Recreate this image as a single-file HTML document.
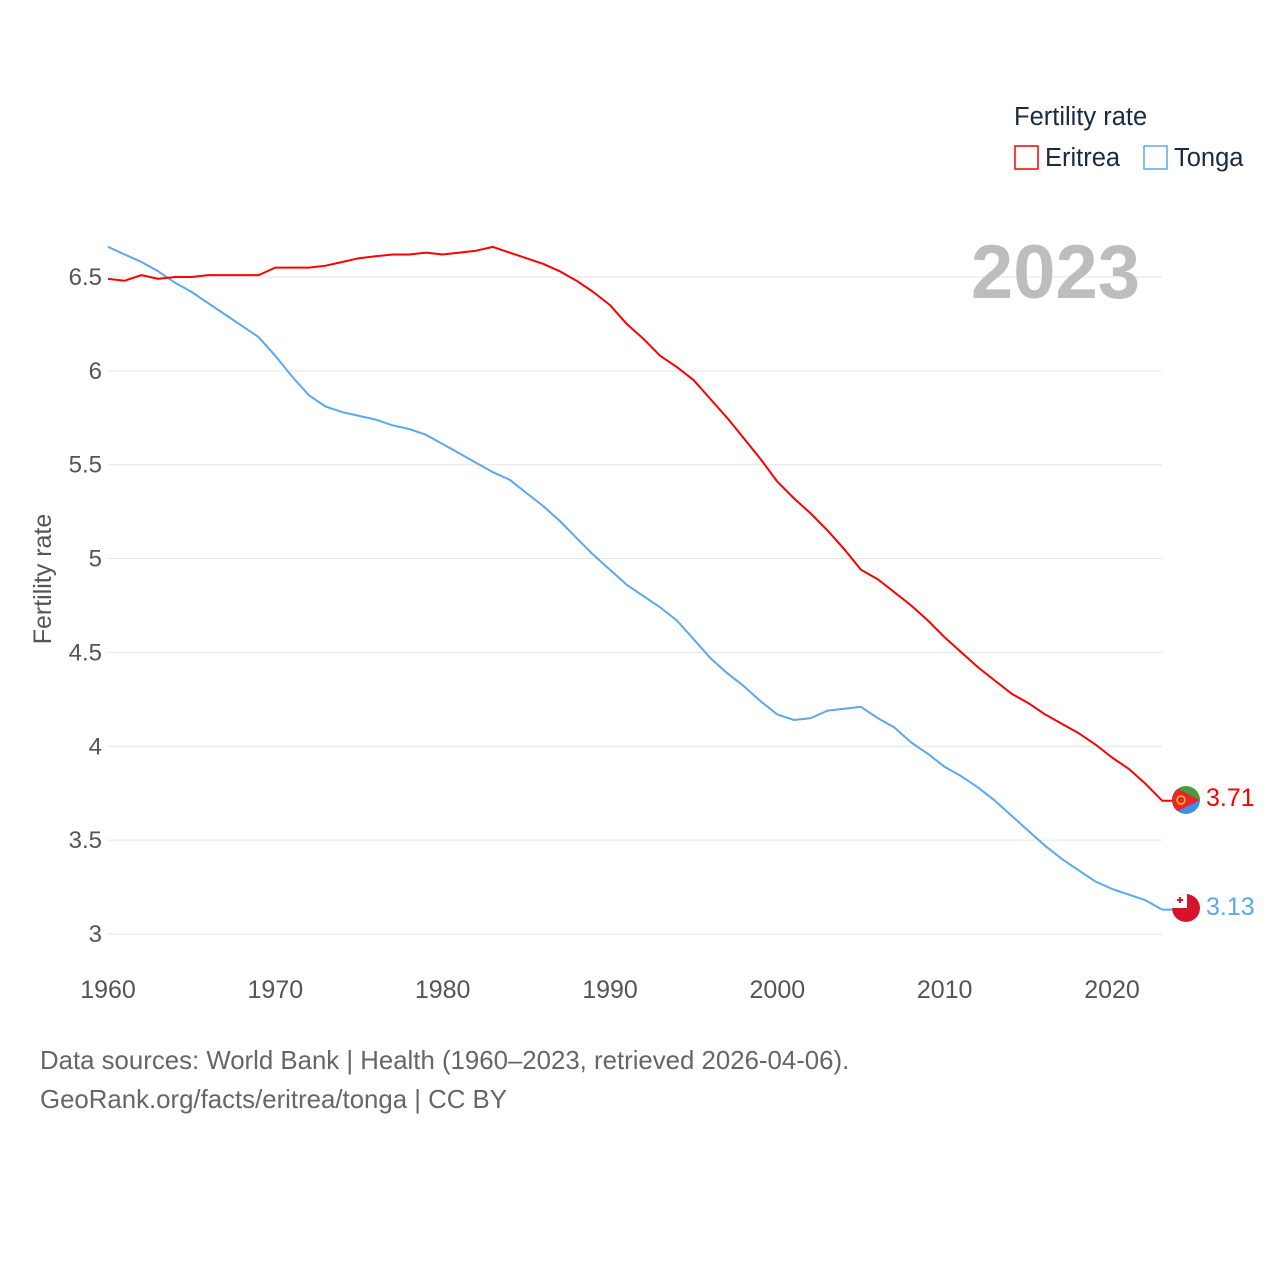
<!DOCTYPE html>
<html><head><meta charset="utf-8"><style>
body{margin:0;background:#fff;}
svg{display:block;font-family:"Liberation Sans",sans-serif;}
</style></head><body>
<svg id="chart" width="1280" height="1280" viewBox="0 0 1280 1280">
<rect width="1280" height="1280" fill="#fff"/>
<g id="grid"></g>
<g id="yticks"></g>
<g id="xticks"></g>
<text x="51" y="579" transform="rotate(-90 51 579)" text-anchor="middle" font-size="25" fill="#555">Fertility rate</text>
<text x="1140" y="298" text-anchor="end" font-size="76" font-weight="bold" fill="#bdbdbd">2023</text>
<g>
<text x="1014" y="125" font-size="25.5" fill="#1a2a44">Fertility rate</text>
<g><rect x="1015" y="146" width="23" height="23" fill="none" stroke="#ff0000" stroke-width="1.5"/><text x="1045" y="166" font-size="25.5" fill="#1a2a44">Eritrea</text></g>
<g><rect x="1144" y="146" width="23" height="23" fill="none" stroke="#5ba8ee" stroke-width="1.5"/><text x="1174" y="166" font-size="25.5" fill="#1a2a44">Tonga</text></g>
</g>
<g id="series"></g>
<g>
<clipPath id="c1"><circle cx="1186" cy="800" r="14"/></clipPath>
<g clip-path="url(#c1)"><rect x="1172" y="786" width="28" height="14" fill="#4a9b3a"/><rect x="1172" y="800" width="28" height="14" fill="#3c8ee6"/><polygon points="1172,786 1200,800 1172,814" fill="#e9262c"/><circle cx="1181" cy="800" r="4" fill="none" stroke="#f5c518" stroke-width="1.5"/></g>
</g>
<g>
<clipPath id="c2"><circle cx="1186" cy="908" r="14"/></clipPath>
<g clip-path="url(#c2)"><rect x="1172" y="894" width="28" height="28" fill="#d6122c"/><rect x="1172" y="894" width="15" height="14" fill="#fff"/><rect x="1177" y="899" width="6" height="2" fill="#d6122c"/><rect x="1179" y="897" width="2" height="6" fill="#d6122c"/></g>
</g>
<text x="1206" y="806" font-size="25" fill="#ff0000">3.71</text>
<text x="1206" y="915" font-size="25" fill="#5ba8ee">3.13</text>
<text x="40" y="1069" font-size="25.8" fill="#666">Data sources: World Bank | Health (1960–2023, retrieved 2026-04-06).</text>
<text x="40" y="1108" font-size="25.8" fill="#666">GeoRank.org/facts/eritrea/tonga | CC BY</text>
</svg>
<script>
const years=[];for(let y=1960;y<=2023;y++)years.push(y);
const eritrea=[6.49,6.48,6.51,6.49,6.50,6.50,6.51,6.51,6.51,6.51,6.55,6.55,6.55,6.56,6.58,6.60,6.61,6.62,6.62,6.63,6.62,6.63,6.64,6.66,6.63,6.60,6.57,6.53,6.48,6.42,6.35,6.25,6.17,6.08,6.02,5.95,5.85,5.75,5.64,5.53,5.41,5.32,5.24,5.15,5.05,4.94,4.89,4.82,4.75,4.67,4.58,4.50,4.42,4.35,4.28,4.23,4.17,4.12,4.07,4.01,3.94,3.88,3.80,3.71];
const tonga=[6.66,6.62,6.58,6.53,6.47,6.42,6.36,6.30,6.24,6.18,6.08,5.97,5.87,5.81,5.78,5.76,5.74,5.71,5.69,5.66,5.61,5.56,5.51,5.46,5.42,5.35,5.28,5.20,5.11,5.02,4.94,4.86,4.80,4.74,4.67,4.57,4.47,4.39,4.32,4.24,4.17,4.14,4.15,4.19,4.20,4.21,4.15,4.10,4.02,3.96,3.89,3.84,3.78,3.71,3.63,3.55,3.47,3.40,3.34,3.28,3.24,3.21,3.18,3.13];
const yTicks=[3,3.5,4,4.5,5,5.5,6,6.5];
const yTickLabels=["3","3.5","4","4.5","5","5.5","6","6.5"];
const xTicks=[1960,1970,1980,1990,2000,2010,2020];
const NS="http://www.w3.org/2000/svg";
const X=v=>108+(v-1960)*(1004/60);
const Y=v=>934-(v-3)*187.72;
function mk(t,a,p){const e=document.createElementNS(NS,t);for(const k in a)e.setAttribute(k,a[k]);p.appendChild(e);return e;}
const grid=document.getElementById('grid'),yt=document.getElementById('yticks'),xt=document.getElementById('xticks'),ser=document.getElementById('series');
yTicks.forEach((v,i)=>{
 const l=mk('line',{x1:108,x2:1162,y1:Y(v),y2:Y(v),stroke:'#e6e6e6','stroke-width':1},grid);
 
 
 const t=mk('text',{x:102,y:Y(v)+8,'text-anchor':'end','font-size':24,fill:'#555'},yt);
 t.textContent=yTickLabels[i];
 
 
});
xTicks.forEach(v=>{
 const t=mk('text',{x:X(v),y:998,'text-anchor':'middle','font-size':25,fill:'#555'},xt);
 t.textContent=String(v);
 
 
});
function line(data,color,name){
 const n=data.length-1;
 const d=data.map((v,i)=>(i?'L':'M')+X(years[i]).toFixed(1)+','+Y(v).toFixed(1)).join('')+'L1172,'+Y(data[n]).toFixed(1);
 const p=mk('path',{d:d,fill:'none',stroke:color,'stroke-width':2,'stroke-linejoin':'round'},ser);
 
 
}
line(tonga,'#5ba8ee','tonga-line');
line(eritrea,'#ff0000','eritrea-line');
</script>
</body></html>
